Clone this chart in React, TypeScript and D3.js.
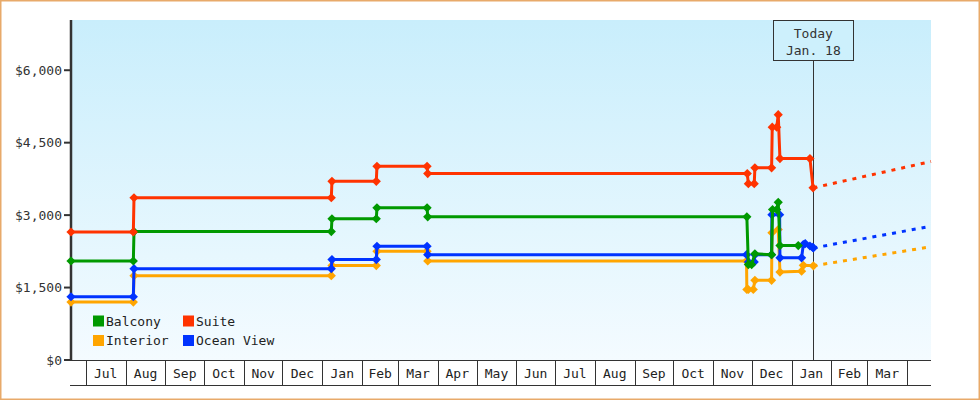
import React from "react";
import * as d3 from "d3";

const W = 980;
const H = 400;

const seriesNames = ["Interior", "Ocean View", "Balcony", "Suite"];
const seriesColors = ["#ffa500", "#0033ff", "#009900", "#ff3300"];
const legendOrder = ["Balcony", "Suite", "Interior", "Ocean View"];

const balcony: [string, number][] = [
  ["2021-06-19T12:00", 2050],
  ["2021-08-07T00:00", 2050],
  ["2021-08-07T12:00", 2660],
  ["2022-01-08T00:00", 2660],
  ["2022-01-08T12:00", 2925],
  ["2022-02-12T00:00", 2925],
  ["2022-02-12T12:00", 3150],
  ["2022-03-23T12:00", 3150],
  ["2022-03-24T00:00", 2965],
  ["2022-11-27T06:00", 2965],
  ["2022-11-28T10:00", 1975],
  ["2022-12-01T00:00", 1975],
  ["2022-12-03T12:00", 2200],
  ["2022-12-16T12:00", 2180],
  ["2022-12-17T06:00", 3115],
  ["2022-12-20T12:00", 3115],
  ["2022-12-21T16:00", 3265],
  ["2022-12-23T00:00", 2370],
  ["2023-01-06T06:00", 2370],
];

const suite: [string, number][] = [
  ["2021-06-19T12:00", 2650],
  ["2021-08-07T00:00", 2650],
  ["2021-08-07T12:00", 3360],
  ["2022-01-08T00:00", 3360],
  ["2022-01-08T12:00", 3700],
  ["2022-02-12T00:00", 3700],
  ["2022-02-12T12:00", 4010],
  ["2022-03-23T12:00", 4010],
  ["2022-03-24T00:00", 3860],
  ["2022-11-27T14:00", 3860],
  ["2022-11-28T10:00", 3650],
  ["2022-12-03T00:00", 3650],
  ["2022-12-03T12:00", 3980],
  ["2022-12-16T12:00", 3980],
  ["2022-12-17T00:00", 4820],
  ["2022-12-20T12:00", 4820],
  ["2022-12-21T16:00", 5080],
  ["2022-12-23T00:00", 4170],
  ["2023-01-15T08:00", 4170],
  ["2023-01-17T18:00", 3565],
];

const oceanView: [string, number][] = [
  ["2021-06-19T12:00", 1310],
  ["2021-08-07T00:00", 1310],
  ["2021-08-07T12:00", 1890],
  ["2022-01-08T00:00", 1890],
  ["2022-01-08T12:00", 2080],
  ["2022-02-12T00:00", 2080],
  ["2022-02-12T12:00", 2355],
  ["2022-03-23T12:00", 2355],
  ["2022-03-24T00:00", 2180],
  ["2022-11-27T00:00", 2180],
  ["2022-11-28T12:00", 2030],
  ["2022-12-03T00:00", 2030],
  ["2022-12-03T12:00", 2180],
  ["2022-12-16T12:00", 2180],
  ["2022-12-16T18:00", 3010],
  ["2022-12-22T18:00", 3010],
  ["2022-12-23T00:00", 2115],
  ["2023-01-08T20:00", 2115],
  ["2023-01-10T04:00", 2390],
  ["2023-01-11T16:00", 2410],
  ["2023-01-15T08:00", 2360],
  ["2023-01-17T12:00", 2330],
  ["2023-01-18T00:00", 2320],
];

const interior: [string, number][] = [
  ["2021-06-19T12:00", 1200],
  ["2021-08-07T00:00", 1200],
  ["2021-08-07T12:00", 1745],
  ["2022-01-08T00:00", 1745],
  ["2022-01-08T12:00", 1955],
  ["2022-02-12T00:00", 1955],
  ["2022-02-12T12:00", 2250],
  ["2022-03-23T12:00", 2250],
  ["2022-03-24T00:00", 2050],
  ["2022-11-27T00:00", 2050],
  ["2022-11-27T06:00", 1460],
  ["2022-11-28T10:00", 1460],
  ["2022-12-02T06:00", 1460],
  ["2022-12-03T12:00", 1650],
  ["2022-12-16T12:00", 1650],
  ["2022-12-16T18:00", 2635],
  ["2022-12-21T16:00", 2700],
  ["2022-12-23T00:00", 1820],
  ["2023-01-08T20:00", 1840],
  ["2023-01-10T04:00", 1960],
  ["2023-01-18T00:00", 1950],
];

// projections: [start value at today, end value at domain end]
const interiorProjection = [1950, 2345];
const oceanViewProjection = [2320, 2770];
const suiteProjection = [3565, 4110];

const yTicks = [0, 1500, 3000, 4500, 6000];
const domainStart = "2021-06-19T12:00";
const domainEnd = "2023-04-19T12:00";
const todayDate = "2023-01-18T00:00";
const todayLabel = ["Today", "Jan. 18"];

const parse = d3.timeParse("%Y-%m-%dT%H:%M");
const FONT = "'DejaVu Sans Mono', monospace";

export default function App() {
  const left = 71, right = 931, top = 20, bottom = 360, band = 385;
  const x = d3.scaleTime().domain([parse(domainStart)!, parse(domainEnd)!]).range([left, right]);
  const y = d3.scaleLinear().domain([0, 7040]).range([bottom, top]);
  const today = parse(todayDate)!;
  const tx = x(today);

  const data: Record<string, [string, number][]> = {
    Interior: interior,
    "Ocean View": oceanView,
    Balcony: balcony,
    Suite: suite,
  };
  const projections: Record<string, number[]> = {
    Interior: interiorProjection,
    "Ocean View": oceanViewProjection,
    Suite: suiteProjection,
  };
  const colorOf = (n: string) => seriesColors[seriesNames.indexOf(n)];

  const line = d3
    .line<[string, number]>()
    .x((d) => x(parse(d[0])!))
    .y((d) => y(d[1]));

  const months = d3.timeMonth.range(d3.timeMonth.ceil(x.domain()[0]), x.domain()[1]);
  const fmt = d3.timeFormat("%b");
  const r = 4.6;
  const diamond = (cx: number, cy: number) =>
    `M${cx},${cy - r}L${cx + r},${cy}L${cx},${cy + r}L${cx - r},${cy}Z`;

  return (
    <svg width={W} height={H} style={{ position: "absolute", left: 0, top: 0, background: "#fff" }}>
      <defs>
        <linearGradient id="bg" x1="0" y1="0" x2="0" y2="1">
          <stop offset="0" stopColor="#c9eefc" />
          <stop offset="1" stopColor="#f4fbff" />
        </linearGradient>
      </defs>
      <rect x={0.75} y={0.75} width={W - 1.5} height={H - 1.5} fill="#fff" stroke="#e8aa6a" strokeWidth={1.5} />
      <rect x={left} y={top} width={right - left} height={bottom - top} fill="url(#bg)" />

      {/* x band */}
      <line x1={left} x2={right} y1={bottom + 0.5} y2={bottom + 0.5} stroke="#333" strokeWidth={1} />
      <line x1={left - 1} x2={right} y1={band + 0.5} y2={band + 0.5} stroke="#333" strokeWidth={1} />
      {months.map((m, i) => {
        const mx = Math.round(x(m)) + 0.5;
        const next = d3.timeMonth.offset(m, 1);
        const showLabel = next <= x.domain()[1];
        return (
          <g key={i}>
            <line x1={mx} x2={mx} y1={bottom} y2={band} stroke="#333" strokeWidth={1} />
            {showLabel && (
              <text
                x={(x(m) + x(next)) / 2}
                y={377.5}
                textAnchor="middle"
                fontFamily={FONT}
                fontSize={13}
                fill="#222"
              >
                {fmt(m)}
              </text>
            )}
          </g>
        );
      })}

      {/* y axis */}
      <line x1={left} x2={left} y1={top} y2={bottom + 1} stroke="#333" strokeWidth={2.5} />
      {yTicks.map((t) => (
        <g key={t}>
          <line x1={left - 7} x2={left} y1={y(t)} y2={y(t)} stroke="#333" strokeWidth={2} />
          <text
            x={left - 9}
            y={y(t) + 4.5}
            textAnchor="end"
            fontFamily={FONT}
            fontSize={13}
            fill="#333"
          >
            {d3.format("$,")(t)}
          </text>
        </g>
      ))}

      {/* today line */}
      <line x1={Math.round(tx) + 0.5} x2={Math.round(tx) + 0.5} y1={61} y2={bottom} stroke="#333" strokeWidth={1} />

      {/* series */}
      {seriesNames.map((n) => {
        const d = data[n];
        const p = projections[n];
        const c = colorOf(n);
        return (
          <g key={n}>
            {p && (
              <line
                x1={tx}
                y1={y(p[0])}
                x2={right}
                y2={y(p[1])}
                stroke={c}
                strokeWidth={3}
                strokeDasharray="4 6"
              />
            )}
            <path d={line(d) || ""} fill="none" stroke={c} strokeWidth={3} strokeLinejoin="round" />
            {d.map((pt, i) => (
              <path key={i} d={diamond(x(parse(pt[0])!), y(pt[1]))} fill={c} />
            ))}
          </g>
        );
      })}

      {/* today box */}
      <rect x={773.5} y={20.5} width={80} height={40} fill="#cdf0fc" stroke="#333" strokeWidth={1} />
      <text x={tx} y={37.5} textAnchor="middle" fontFamily={FONT} fontSize={13} fill="#333">
        {todayLabel[0]}
      </text>
      <text x={tx} y={55} textAnchor="middle" fontFamily={FONT} fontSize={13} fill="#333">
        {todayLabel[1]}
      </text>

      {/* legend */}
      {legendOrder.map((n, i) => {
        const col = i % 2;
        const row = Math.floor(i / 2);
        const lx = 93 + col * 90;
        const ly = 315.5 + row * 19.5;
        return (
          <g key={n}>
            <rect x={lx} y={ly} width={11} height={11} fill={colorOf(n)} />
            <text x={lx + 13} y={ly + 10} fontFamily={FONT} fontSize={13} fill="#222">
              {n}
            </text>
          </g>
        );
      })}
    </svg>
  );
}
